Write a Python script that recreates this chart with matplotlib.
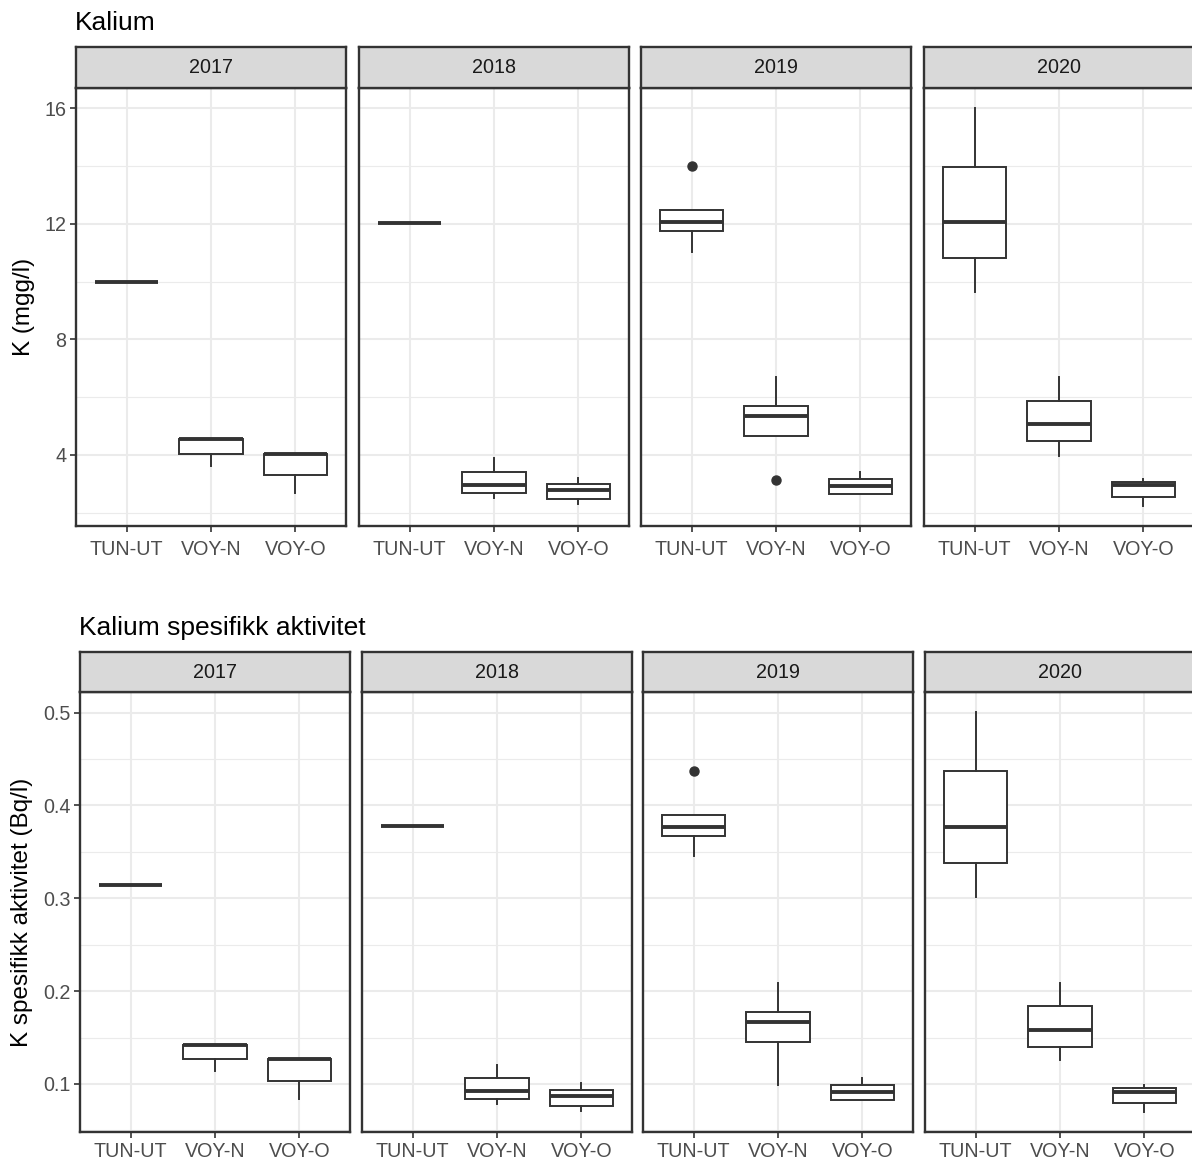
import matplotlib
matplotlib.use("Agg")
import matplotlib.pyplot as plt
import numpy as np

plt.rcParams['font.family'] = ['Liberation Sans', 'DejaVu Sans']

years = ["2017", "2018", "2019", "2020"]
sites = ["TUN-UT", "VOY-N", "VOY-O"]

# Kalium (mgg/l), one row per year, one value per site
k_whislo = [[10.0, 3.62, 2.70], [12.03, 2.51, 2.30], [11.03, 4.66, 2.64], [9.64, 3.98, 2.23]]
k_q1 = [[10.0, 4.03, 3.31], [12.03, 2.70, 2.47], [11.74, 4.66, 2.64], [10.82, 4.49, 2.54]]
k_med = [[10.0, 4.55, 4.03], [12.03, 2.97, 2.79], [12.06, 5.34, 2.91], [12.06, 5.06, 2.95]]
k_q3 = [[10.0, 4.55, 4.03], [12.03, 3.40, 3.00], [12.50, 5.70, 3.18], [13.98, 5.86, 3.06]]
k_whishi = [[10.0, 4.55, 4.03], [12.03, 3.89, 3.22], [12.50, 6.71, 3.41], [16.02, 6.71, 3.18]]
k_fliers = [[[], [], []], [[], [], []], [[14.0], [3.12], []], [[], [], []]]

# Kalium spesifikk aktivitet (Bq/l)
a_whislo = [[0.314, 0.1135, 0.0834], [0.3777, 0.0785, 0.0713], [0.3452, 0.0986, 0.0824], [0.3013, 0.1256, 0.0698]]
a_q1 = [[0.314, 0.1267, 0.1035], [0.3777, 0.0839, 0.0767], [0.3668, 0.1454, 0.0824], [0.338, 0.140, 0.0795]]
a_med = [[0.314, 0.142, 0.1267], [0.3777, 0.0925, 0.0875], [0.3773, 0.1667, 0.0914], [0.3773, 0.1577, 0.0914]]
a_q3 = [[0.314, 0.142, 0.1267], [0.3777, 0.1062, 0.0933], [0.390, 0.1778, 0.0993], [0.437, 0.184, 0.0957]]
a_whishi = [[0.314, 0.142, 0.1267], [0.3777, 0.1209, 0.1011], [0.390, 0.2091, 0.1065], [0.5007, 0.2091, 0.0993]]
a_fliers = [[[], [], []], [[], [], []], [[0.437], [], []], [[], [], []]]

k_major = [4, 8, 12, 16]
k_minor = [2, 6, 10, 14]
a_major = [0.1, 0.2, 0.3, 0.4, 0.5]
a_minor = [0.05, 0.15, 0.25, 0.35, 0.45]

W, H = 1192, 1162
fig = plt.figure(figsize=(W / 100, H / 100), dpi=100)
dark = "#333333"


def box(x0, y0, w, h):
    return [x0 / W, 1 - (y0 + h) / H, w / W, h / H]


def draw_row(title, ylabel, lo, q1, med, q3, hi, fl, major, minor, fmt,
             lefts, strip_top, panel_top, panel_bot, title_xy, ylab_x, xpad):
    allv = np.concatenate([np.ravel(lo), np.ravel(hi)] +
                          [np.ravel(f) for row in fl for f in row if f])
    rng = allv.max() - allv.min()
    ylim = (allv.min() - 0.05 * rng, allv.max() + 0.05 * rng)
    pw = 270
    for p, yr in enumerate(years):
        x0 = lefts[p]
        ax = fig.add_axes(box(x0, panel_top, pw, panel_bot - panel_top))
        stats = []
        for s, name in enumerate(sites):
            stats.append(dict(med=med[p][s], q1=q1[p][s], q3=q3[p][s],
                              whislo=lo[p][s], whishi=hi[p][s],
                              fliers=fl[p][s], label=name))
        ax.bxp(stats, positions=[1, 2, 3], widths=0.75, showcaps=False,
               patch_artist=True,
               boxprops=dict(facecolor="white", edgecolor=dark, linewidth=1.4),
               medianprops=dict(color=dark, linewidth=2.8, solid_capstyle="butt"),
               whiskerprops=dict(color=dark, linewidth=1.4),
               flierprops=dict(marker="o", markerfacecolor=dark,
                               markeredgecolor=dark, markersize=6.5))
        ax.set_xlim(0.4, 3.6)
        ax.set_ylim(*ylim)
        ax.set_axisbelow(True)
        for v in minor:
            ax.axhline(v, color="#EBEBEB", linewidth=0.8, zorder=0)
        for v in major:
            ax.axhline(v, color="#EBEBEB", linewidth=1.5, zorder=0)
        for v in [1, 2, 3]:
            ax.axvline(v, color="#EBEBEB", linewidth=1.5, zorder=0)
        ax.set_xticks([1, 2, 3])
        ax.set_xticklabels(sites, fontsize=14.2, color="#4D4D4D")
        ax.tick_params(axis="x", color=dark, width=1.2, length=4, pad=xpad)
        ax.set_yticks(major)
        if p == 0:
            ax.set_yticklabels([fmt.format(v) for v in major],
                               fontsize=14.2, color="#4D4D4D")
            ax.tick_params(axis="y", color=dark, width=1.2, length=4, pad=3)
        else:
            ax.set_yticklabels([])
            ax.tick_params(axis="y", length=0)
        for sp in ax.spines.values():
            sp.set_color(dark)
            sp.set_linewidth(1.7)
        # facet strip
        st = fig.add_axes(box(x0, strip_top, pw, panel_top - strip_top))
        st.set_facecolor("#D9D9D9")
        st.set_xticks([])
        st.set_yticks([])
        for sp in st.spines.values():
            sp.set_color(dark)
            sp.set_linewidth(1.7)
        st.text(0.5, 0.5, yr, ha="center", va="center", fontsize=14.2,
                color="#1A1A1A", transform=st.transAxes)
    fig.text(title_xy[0] / W, 1 - title_xy[1] / H, title, ha="left",
             va="center", fontsize=19, color="black")
    fig.text(ylab_x / W, 1 - (panel_top + panel_bot) / 2 / H, ylabel,
             rotation=90, ha="center", va="center", fontsize=17.5,
             color="black")


draw_row("Kalium", "K (mgg/l)", k_whislo, k_q1, k_med, k_q3, k_whishi,
         k_fliers, k_major, k_minor, "{:g}",
         [76, 359, 641, 924], 47, 88, 526, (75, 23), 24, 6)
draw_row("Kalium spesifikk aktivitet", "K spesifikk aktivitet (Bq/l)",
         a_whislo, a_q1, a_med, a_q3, a_whishi, a_fliers, a_major, a_minor,
         "{:.1f}", [80, 362, 643, 925], 652, 692, 1132, (79, 628), 22, 3.5)

fig.savefig("out.png", dpi=100)
